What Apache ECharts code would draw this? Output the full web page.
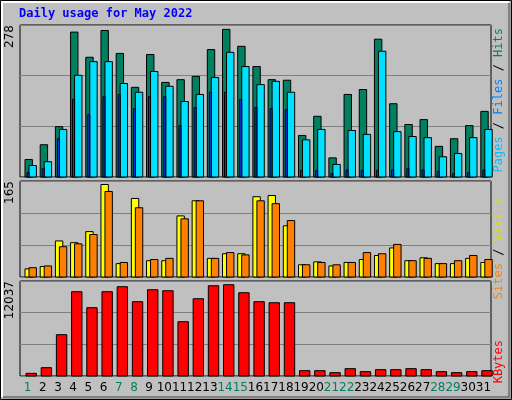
<!DOCTYPE html>
<html><head><meta charset="utf-8">
<script src="https://cdn.jsdelivr.net/npm/echarts@6/dist/echarts.min.js"></script>
<style>html,body{margin:0;padding:0;background:#fff}#c{width:512px;height:400px}</style>
</head><body><div id="c"></div>
<script>
var days = [];
for (var d = 1; d <= 31; d++) days.push(String(d));
var weekend = ['1','7','8','14','15','21','22','28','29'];

var hits   = [32,59,92,265,219,268,226,164,224,173,178,184,233,270,239,202,178,177,76,111,35,151,160,252,134,96,105,56,70,94,120];
var files  = [21,28,87,186,211,211,171,155,193,166,138,151,182,228,202,169,175,155,68,87,23,85,78,230,83,74,72,37,43,72,87];
var pages  = [8,15,70,142,114,147,151,125,147,147,94,127,155,155,142,127,125,123,12,12,6,13,12,12,13,15,13,10,6,8,13];
var visits = [14,18,62,59,78,159,23,135,28,28,105,131,32,40,40,138,140,88,21,26,19,25,30,37,50,28,33,23,23,32,25];
var sites  = [16,19,52,57,73,147,25,119,30,32,100,131,32,42,38,131,126,97,21,25,21,25,42,40,56,28,32,23,28,37,30];
var kbytes = [338,1055,5233,10678,8652,10678,11311,9412,10931,10804,6879,9791,11437,11564,10551,9412,9285,9285,675,675,422,929,549,802,802,929,802,549,422,549,675];
var maxTop = 278, maxMid = 165, maxBot = 12037;

var chartDom = document.getElementById('c');
var myChart = echarts.init(chartDom);

// bar drawn through the axis scale, shifted by a few pixels inside its day slot
function bars(name, data, idx, x0, x1, color, z) {
    return {
        type: 'custom', name: name, xAxisIndex: idx, yAxisIndex: idx, z: z,
        data: data.map(function (v, i) { return [i, v]; }),
        renderItem: function (params, api) {
            var top = api.coord([api.value(0), api.value(1)]);
            var base = api.coord([api.value(0), 0]);
            return {
                type: 'rect',
                shape: { x: top[0] + x0, y: top[1], width: x1 - x0, height: base[1] - top[1] },
                style: { fill: color, stroke: '#000', lineWidth: 1 }
            };
        }
    };
}

function xAx(idx, show) {
    return {
        type: 'category', gridIndex: idx, data: days, boundaryGap: true,
        axisLine: { show: false }, axisTick: { show: false },
        axisLabel: show ? {
            show: true, interval: 0, margin: 6, fontSize: 12, fontFamily: 'DejaVu Sans',
            color: function (v) { return weekend.indexOf(v) >= 0 ? '#008060' : '#000'; }
        } : { show: false }
    };
}
function yAx(idx, max) {
    return {
        type: 'value', gridIndex: idx, min: 0, max: max, interval: max / 3,
        axisLine: { show: false }, axisTick: { show: false },
        splitLine: { lineStyle: { color: '#808080', width: 1 } },
        axisLabel: {
            rotate: 90, margin: 4, fontSize: 12, fontFamily: 'DejaVu Sans', color: '#000',
            verticalAlign: 'bottom', align: 'right',
            formatter: function (v) { return Math.abs(v - max) < 1e-6 ? String(max) : ''; }
        }
    };
}

function sideText(y, parts) {
    var rich = {}, s = '';
    parts.forEach(function (p, i) {
        rich['p' + i] = { fill: p[1], fontSize: 12, fontFamily: 'DejaVu Sans Mono' };
        s += '{p' + i + '|' + p[0] + '}';
    });
    return { type: 'text', x: 493, y: y, rotation: Math.PI / 2,
        style: { text: s, rich: rich, align: 'right', verticalAlign: 'top' } };
}

var option = {
    backgroundColor: '#c0c0c0',
    animation: false,
    grid: [
        { left: 20, width: 471, top: 25, height: 152, show: true, borderColor: '#000', borderWidth: 1, backgroundColor: '#c0c0c0' },
        { left: 20, width: 471, top: 181, height: 96, show: true, borderColor: '#000', borderWidth: 1, backgroundColor: '#c0c0c0' },
        { left: 20, width: 471, top: 281, height: 95, show: true, borderColor: '#000', borderWidth: 1, backgroundColor: '#c0c0c0' }
    ],
    xAxis: [xAx(0, false), xAx(1, false), xAx(2, true)],
    yAxis: [yAx(0, maxTop), yAx(1, maxMid), yAx(2, maxBot)],
    graphic: [
        { type: 'rect', shape: { x: 0.5, y: 0.5, width: 511, height: 399 }, style: { fill: 'none', stroke: '#000', lineWidth: 1 }, z: 100 },
        { type: 'rect', shape: { x: 2, y: 2, width: 506, height: 394 }, style: { fill: 'none', stroke: '#ffffff', lineWidth: 2 }, z: 100 },
        { type: 'polyline', shape: { points: [[509, 3], [509, 397], [3, 397]] }, style: { stroke: '#808080', lineWidth: 3, fill: 'none' }, z: 101 },
        { type: 'text', x: 19, y: 8, style: { text: 'Daily usage for May 2022', fill: '#0000ff', fontSize: 12, fontWeight: 'bold', fontFamily: 'DejaVu Sans Mono' } },
        sideText(28, [['Pages', '#00c0ff'], [' / ', '#000'], ['Files', '#0080ff'], [' / ', '#000'], ['Hits', '#008060']]),
        sideText(198, [['Sites', '#ff8000'], [' / ', '#000'], ['Visits', '#e0e000']]),
        sideText(340, [['KBytes', '#ff0000']])
    ],
    series: [
        bars('Hits', hits, 0, -2.6, 4.8, '#008060', 2),
        bars('Files', files, 0, 1.4, 8.8, '#00e0ff', 3),
        bars('Pages', pages, 0, -0.6, 1.4, '#0040ff', 4),
        bars('Visits', visits, 1, -2.6, 4.8, '#ffff00', 2),
        bars('Sites', sites, 1, 1.4, 8.8, '#ff8000', 3),
        bars('KBytes', kbytes, 2, -1.6, 8.8, '#ff0000', 2)
    ]
};
myChart.setOption(option);
</script>
</body></html>
